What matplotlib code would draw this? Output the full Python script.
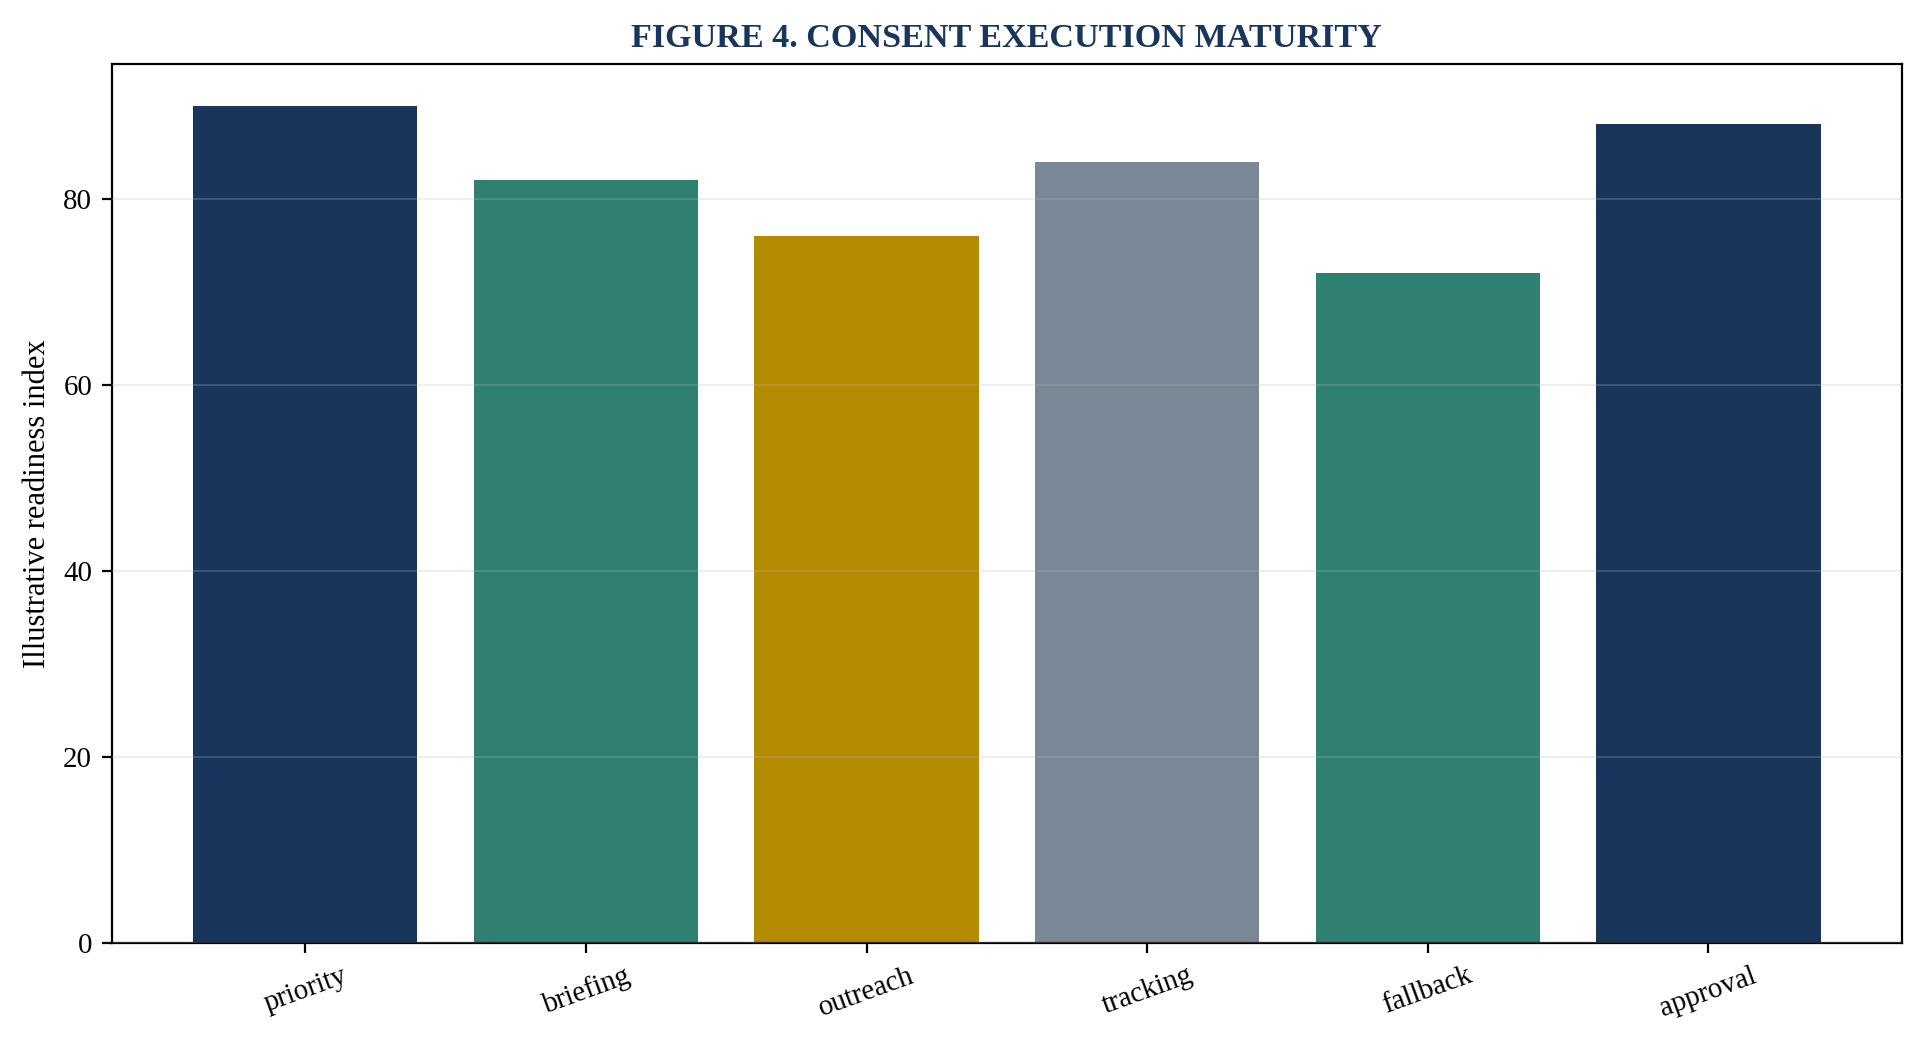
import numpy as np
import matplotlib
matplotlib.use("Agg")
import matplotlib.pyplot as plt

# chart data
categories = ["priority", "briefing", "outreach", "tracking", "fallback", "approval"]
values = [90, 82, 76, 84, 72, 88]
bar_colors = ["#18365c", "#2f8070", "#b38a00", "#7a8796", "#2f8070", "#18365c"]

plt.rcParams["font.family"] = ["Liberation Serif", "DejaVu Serif"]


def main():
    fig, ax = plt.subplots(figsize=(9.62, 5.24), dpi=200)
    fig.subplots_adjust(left=0.058, right=0.9886, bottom=0.100, top=0.939)

    x = np.arange(len(categories))
    ax.bar(x, values, width=0.8, color=bar_colors, zorder=1)

    # grid sits over the bars, faint
    ax.yaxis.grid(True, color="#bbbbbb", alpha=0.25, linewidth=0.7, zorder=3)
    ax.set_axisbelow(False)

    ax.set_ylim(0, max(values) * 1.05)
    ax.set_xticks(x)
    ax.set_xticklabels(categories, rotation=20, fontsize=10.4)
    ax.tick_params(axis="y", labelsize=10.4)
    ax.set_ylabel("Illustrative readiness index", fontsize=11)
    ax.set_title("FIGURE 4. CONSENT EXECUTION MATURITY", fontsize=12.3,
                 fontweight="bold", color="#18365c")

    fig.savefig("out.png", dpi=200)


if __name__ == "__main__":
    main()
